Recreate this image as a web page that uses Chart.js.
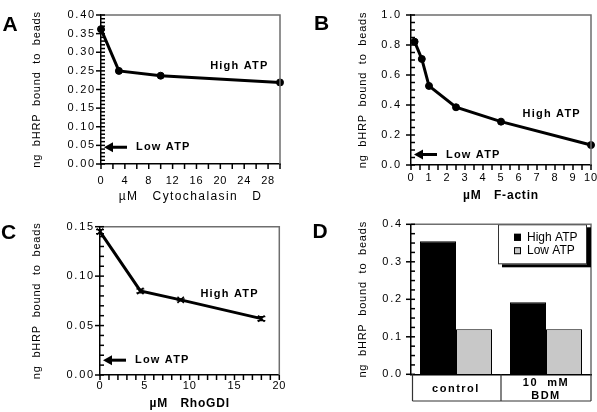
<!DOCTYPE html>
<html><head><meta charset="utf-8">
<script src="https://cdn.jsdelivr.net/npm/chart.js@4/dist/chart.umd.min.js"></script>
<style>
html,body{margin:0;padding:0;background:#fff;}
#wrap{position:relative;width:597px;height:412px;overflow:hidden;background:#fff;}
canvas{position:absolute;left:0;top:0;}
</style></head><body>
<div id="wrap">
<canvas id="cA" width="597" height="412"></canvas>
<canvas id="cB" width="597" height="412"></canvas>
<canvas id="cC" width="597" height="412"></canvas>
<canvas id="cD" width="597" height="412"></canvas>
</div>
<script>
// ---------- DATA ----------
// Panel A
const cytochalasinD = [0, 3, 10, 30];
const bindingA = [0.362, 0.250, 0.237, 0.219];
const lowATP_A = 0.045;
// Panel B
const fActin = [0.2, 0.6, 1, 2.5, 5, 10];
const bindingB = [0.822, 0.707, 0.527, 0.385, 0.289, 0.133];
const lowATP_B = 0.07;
// Panel C
const rhoGDI = [0, 4.5, 9, 18];
const bindingC = [0.145, 0.085, 0.076, 0.057];
const errorC = [0.002, 0.002, 0.001, 0.002];
const lowATP_C = 0.015;
// Panel D
const conditions = ['control', ['10  mM', 'BDM']];
const highATP_D = [0.355, 0.192];
const lowATP_D = [0.12, 0.12];

// ---------- STYLE / HELPERS ----------
const FONT = "'Liberation Sans', Arial, Helvetica, sans-serif";
Chart.defaults.font.family = FONT;
Chart.defaults.color = '#000';

function isMajor(v, major) { const r = v / major; return Math.abs(r - Math.round(r)) < 1e-6; }
function zeroPad(s) { s.paddingLeft = s.paddingRight = s.paddingTop = s.paddingBottom = 0; }

function linearAxis(o, axis) {
  return {
    type: 'linear', min: o.min, max: o.max,
    ticks: {
      stepSize: o.step, autoSkip: false, maxRotation: 0, padding: o.tickPad, color: '#000',
      font: { size: 11 },
      callback: (v) => isMajor(v, o.major) ? Number(v).toFixed(o.decimals) : ''
    },
    grid: { display: false, drawTicks: false },
    border: { display: true, color: '#000', width: 1.5 },
    title: o.title ? { display: true, text: o.title, color: '#000',
      font: { size: o.titleSize || 11, weight: o.titleBold ? 'bold' : 'normal' }, padding: o.titlePad } : { display: false },
    afterFit(s) { if (axis === 'x') s.height = o.size; else s.width = o.size; zeroPad(s); }
  };
}

function wrapSpacing(s, key, L) {
  if (!s || s['_w_' + key]) return;
  const orig = s[key];
  s[key] = function (...args) {
    const c = this.ctx; c.save(); c.letterSpacing = L + 'px';
    const r = orig.apply(this, args); c.restore(); return r;
  };
  s['_w_' + key] = true;
}

function drawTickMarks(ctx, a, x, y, spec) {
  ctx.save();
  ctx.strokeStyle = '#000';
  ctx.lineWidth = 1.5;
  const yt = y.ticks || [];
  for (let i = 0; i < yt.length; i++) {
    const v = yt[i].value;
    const p = y.getPixelForValue(v);
    const major = isMajor(v, spec.yMajor);
    ctx.beginPath();
    ctx.moveTo(a.left - (major ? 5 : 0), p);
    ctx.lineTo(a.left + 4, p);
    ctx.stroke();
  }
  if (x.type === 'linear') {
    const xt = x.ticks || [];
    for (let i = 0; i < xt.length; i++) {
      const p = x.getPixelForValue(xt[i].value);
      ctx.beginPath(); ctx.moveTo(p, a.bottom); ctx.lineTo(p, a.bottom + 5); ctx.stroke();
    }
  }
  ctx.restore();
}

function panelPlugin(spec) {
  return {
    id: 'panel' + spec.letter,
    beforeDraw(chart) {
      wrapSpacing(chart.scales.x, 'drawLabels', spec.ls.xTicks);
      wrapSpacing(chart.scales.x, 'drawTitle', spec.ls.xTitle);
      wrapSpacing(chart.scales.y, 'drawLabels', spec.ls.yTicks);
      wrapSpacing(chart.scales.y, 'drawTitle', spec.ls.yTitle);
    },
    afterDatasetsDraw(chart) {
      if (!spec.errors) return;
      const { ctx } = chart; const x = chart.scales.x, y = chart.scales.y;
      const ds = chart.data.datasets[0].data;
      ctx.save(); ctx.strokeStyle = '#000'; ctx.lineWidth = 1.2;
      ds.forEach((d, i) => {
        const px = x.getPixelForValue(d.x);
        const y1 = y.getPixelForValue(d.y + spec.errors[i]), y2 = y.getPixelForValue(d.y - spec.errors[i]);
        ctx.beginPath();
        ctx.moveTo(px, y1); ctx.lineTo(px, y2);
        ctx.moveTo(px - 4, y1); ctx.lineTo(px + 4, y1);
        ctx.moveTo(px - 4, y2); ctx.lineTo(px + 4, y2);
        ctx.stroke();
      });
      ctx.restore();
    },
    afterDraw(chart) {
      const { ctx, chartArea: a } = chart;
      const x = chart.scales.x, y = chart.scales.y;
      ctx.save();
      ctx.letterSpacing = '0px';
      // grey frame (top and right)
      ctx.strokeStyle = '#6e6e6e'; ctx.lineWidth = 1.5;
      ctx.beginPath(); ctx.moveTo(a.left, a.top); ctx.lineTo(a.right, a.top); ctx.lineTo(a.right, a.bottom); ctx.stroke();
      drawTickMarks(ctx, a, x, y, spec);
      // annotations
      ctx.fillStyle = '#000';
      ctx.font = 'bold 11px ' + FONT;
      ctx.textBaseline = 'middle'; ctx.textAlign = 'left';
      if (spec.high) {
        ctx.letterSpacing = '1.2px';
        ctx.fillText('High ATP', x.getPixelForValue(spec.high.x), y.getPixelForValue(spec.high.y));
      }
      if (spec.low != null) {
        ctx.letterSpacing = '0px';
        const yv = y.getPixelForValue(spec.low);
        const tip = a.left + 3;
        ctx.beginPath(); ctx.moveTo(tip, yv); ctx.lineTo(tip + 9, yv - 5); ctx.lineTo(tip + 9, yv + 5); ctx.closePath(); ctx.fill();
        ctx.fillRect(tip + 8, yv - 1.5, 15, 3);
        ctx.letterSpacing = '1.2px';
        ctx.fillText('Low ATP', tip + 32, yv);
      }
      // legend (panel D)
      if (spec.legend) {
        ctx.letterSpacing = '0px';
        const bw = 89, bh = 40, bx = a.right - 4 - bw, by = a.top;
        ctx.fillStyle = '#000'; ctx.fillRect(bx + 4, by + 3, bw, bh);
        ctx.fillStyle = '#fff'; ctx.fillRect(bx, by, bw, bh);
        ctx.strokeStyle = '#333'; ctx.lineWidth = 1; ctx.strokeRect(bx + 0.5, by + 0.5, bw - 1, bh - 1);
        ctx.font = '12px ' + FONT; ctx.textBaseline = 'middle'; ctx.textAlign = 'left';
        chart.data.datasets.forEach((ds, i) => {
          const cy = by + 13 + i * 13.4;
          ctx.fillStyle = ds.backgroundColor; ctx.fillRect(bx + 16, cy - 3.5, 7, 7);
          ctx.strokeStyle = '#000'; ctx.lineWidth = 1; ctx.strokeRect(bx + 16.5, cy - 3, 6, 6);
          ctx.fillStyle = '#000'; ctx.fillText(ds.label, bx + 29, cy);
        });
      }
      // category table (panel D)
      if (spec.table) {
        const tb = a.bottom + 26.7, tr = a.right;
        const mid = (x.getPixelForValue(0) + x.getPixelForValue(1)) / 2;
        ctx.strokeStyle = '#333'; ctx.lineWidth = 1.2;
        ctx.beginPath();
        ctx.moveTo(a.left + 1.5, a.bottom); ctx.lineTo(a.left + 1.5, tb);
        ctx.moveTo(mid, a.bottom); ctx.lineTo(mid, tb);
        ctx.moveTo(tr, a.bottom); ctx.lineTo(tr, tb);
        ctx.moveTo(a.left + 1.5, tb); ctx.lineTo(tr, tb);
        ctx.stroke();
      }
      // panel letter
      ctx.letterSpacing = '0px';
      ctx.fillStyle = '#000'; ctx.font = 'bold 21px ' + FONT;
      ctx.textAlign = 'center'; ctx.textBaseline = 'middle';
      ctx.fillText(spec.letter, spec.letterPos[0], spec.letterPos[1]);
      ctx.restore();
    }
  };
}

function makeLine(id, spec) {
  return new Chart(document.getElementById(id), {
    type: 'line',
    data: { datasets: [{
      data: spec.xs.map((x, i) => ({ x, y: spec.ys[i] })),
      borderColor: '#000', borderWidth: 3, tension: 0, clip: false,
      pointRadius: spec.pointRadius, pointStyle: spec.pointStyle || 'circle',
      pointBackgroundColor: '#000', pointBorderColor: '#000', pointBorderWidth: spec.pointBorderWidth || 1
    }] },
    options: {
      responsive: false, animation: false, devicePixelRatio: 1, events: [],
      layout: { padding: spec.padding },
      plugins: { legend: { display: false }, tooltip: { enabled: false } },
      scales: { x: linearAxis(spec.xAxis, 'x'), y: linearAxis(spec.yAxis, 'y') }
    },
    plugins: [panelPlugin(spec)]
  });
}

const yTitle = 'ng  bHRP  bound  to  beads';

// ---------- PANEL A ----------
makeLine('cA', {
  letter: 'A', letterPos: [10, 25], yMajor: 0.05,
  xs: cytochalasinD, ys: bindingA, pointRadius: 3.5,
  padding: { left: 0, top: 15, right: 317, bottom: 207 },
  xAxis: { min: 0, max: 30, step: 2, major: 4, decimals: 0, size: 41, tickPad: 10.4,
           title: 'µM   Cytochalasin   D', titleSize: 12, titleBold: false, titlePad: { top: 0, bottom: 1.1 } },
  yAxis: { min: 0, max: 0.4, step: 0.01, major: 0.05, decimals: 2, size: 101, tickPad: 5,
           title: yTitle, titlePad: { top: 30, bottom: 0 } },
  ls: { xTicks: 0.8, yTicks: 1.8, xTitle: 1.4, yTitle: 0.8 },
  high: { x: 18.3, y: 0.263 }, low: lowATP_A
});

// ---------- PANEL B ----------
makeLine('cB', {
  letter: 'B', letterPos: [321.5, 24.5], yMajor: 0.2,
  xs: fActin, ys: bindingB, pointRadius: 3.5,
  padding: { left: 300, top: 15, right: 6, bottom: 207 },
  xAxis: { min: 0, max: 10, step: 0.5, major: 1, decimals: 0, size: 40, tickPad: 5.9,
           title: 'µM   F-actin', titleSize: 12, titleBold: true, titlePad: { top: 0, bottom: 2 } },
  yAxis: { min: 0, max: 1, step: 0.05, major: 0.2, decimals: 1, size: 111, tickPad: 9,
           title: yTitle, titlePad: { top: 56.4, bottom: 0 } },
  ls: { xTicks: 0.8, yTicks: 1.8, xTitle: 0.8, yTitle: 0.8 },
  high: { x: 6.2, y: 0.337 }, low: lowATP_B
});

// ---------- PANEL C ----------
makeLine('cC', {
  letter: 'C', letterPos: [8.5, 233.5], yMajor: 0.05,
  xs: rhoGDI, ys: bindingC, pointRadius: 4.5, pointStyle: 'crossRot', pointBorderWidth: 1.5,
  errors: errorC,
  padding: { left: 0, top: 226.7, right: 317.7, bottom: 0 },
  xAxis: { min: 0, max: 20, step: 1, major: 5, decimals: 0, size: 37, tickPad: 4.7,
           title: 'µM   RhoGDI', titleSize: 12, titleBold: true, titlePad: { top: 0, bottom: 0.8 } },
  yAxis: { min: 0, max: 0.15, step: 0.01, major: 0.05, decimals: 2, size: 100, tickPad: 5,
           title: yTitle, titlePad: { top: 30, bottom: 0 } },
  ls: { xTicks: 0.8, yTicks: 1.8, xTitle: 0.8, yTitle: 0.8 },
  high: { x: 11.2, y: 0.0816 }, low: lowATP_C
});

// ---------- PANEL D ----------
const specD = { letter: 'D', letterPos: [320, 232.5], legend: true, table: true, yMajor: 0.1,
  ls: { xTicks: 1.5, yTicks: 1.8, xTitle: 0, yTitle: 0.8 } };
const yAxisD = linearAxis({ min: 0, max: 0.4, step: 0.025, major: 0.1, decimals: 1, size: 111, tickPad: 8,
  title: yTitle, titlePad: { top: 56.4, bottom: 0 } }, 'y');
new Chart(document.getElementById('cD'), {
  type: 'bar',
  data: { labels: conditions, datasets: [
    { label: 'High ATP', data: highATP_D, backgroundColor: '#000', borderColor: '#000', borderWidth: 1,
      categoryPercentage: 0.8, barPercentage: 1 },
    { label: 'Low ATP', data: lowATP_D, backgroundColor: '#c8c8c8', borderColor: '#000', borderWidth: 1,
      categoryPercentage: 0.8, barPercentage: 1 }
  ] },
  options: {
    responsive: false, animation: false, devicePixelRatio: 1, events: [],
    layout: { padding: { left: 300, top: 224.3, right: 6, bottom: 0 } },
    plugins: { legend: { display: false }, tooltip: { enabled: false } },
    scales: {
      x: { type: 'category', grid: { display: false, drawTicks: false },
           border: { display: true, color: '#000', width: 1.5 },
           ticks: { font: { size: 11, weight: 'bold' }, color: '#000', padding: 8.5, crossAlign: 'center',
                    maxRotation: 0, autoSkip: false },
           afterFit(s) { s.height = 37.7; zeroPad(s); } },
      y: yAxisD
    }
  },
  plugins: [panelPlugin(specD)]
});
</script>
</body></html>
